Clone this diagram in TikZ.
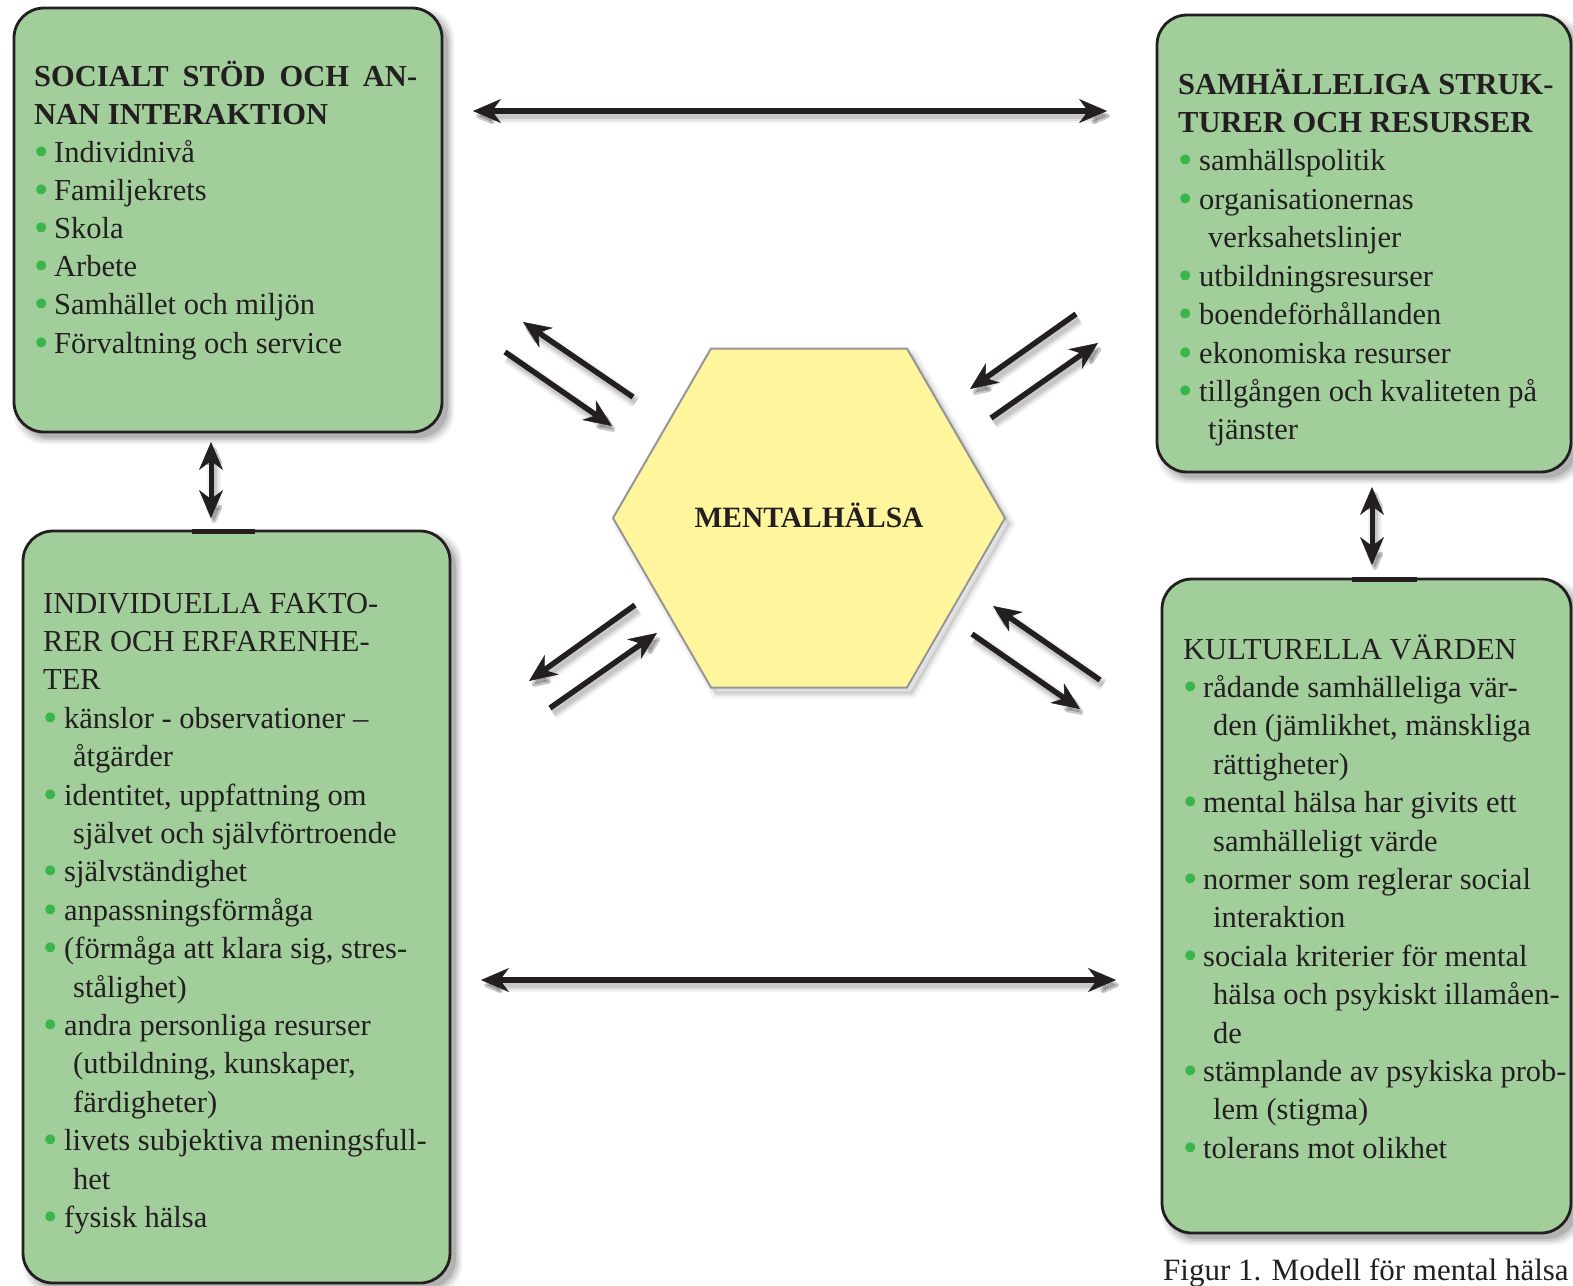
\documentclass[tikz,border=0pt]{standalone}
\usepackage{fontspec}
\setmainfont{Liberation Serif}
\usetikzlibrary{arrows.meta,calc}

\definecolor{ink}{RGB}{35,31,32}
\definecolor{panelgreen}{RGB}{162,206,156}
\definecolor{dotgreen}{RGB}{58,181,75}
\definecolor{hexfill}{RGB}{255,245,157}
\definecolor{hexline}{RGB}{150,150,150}

% list helpers: bulleted line and continuation line
\newcommand\pdot{\textcolor{dotgreen}{\smash{\raisebox{-3pt}{\scalebox{1.35}{\textbullet}}}}}
\newcommand\pitem[2][20pt]{\par\noindent\makebox[#1][l]{\pdot}#2}
\newcommand\pcont[2][30pt]{\par\noindent\hspace*{#1}#2}
\newcommand\ptext[2]{\parbox[t]{430pt}{\fontsize{30.5}{#1}\selectfont\raggedright #2}}

% rounded green panel with a soft shadow: name, x1, y1, x2, y2
\newcommand\panelbox[5]{%
  \foreach \ex/\op in {6/0.05,4/0.07,2/0.09,0/0.12}{%
    \fill[black,opacity=\op,rounded corners=30pt]
      ({#2-\ex+6},{#3-\ex+6}) rectangle ({#4+\ex+6},{#5+\ex+6});}%
  \node[panel,anchor=north west,minimum width={#4-#2},minimum height={#5-#3}] (#1) at (#2,#3) {};}

% arrow with a soft shadow: ends, shaft width, start, end
\newcommand\sarrow[4]{%
  \foreach \lw/\op in {14/0.05,10/0.07,6/0.1}{%
    \draw[#1,>={Stealth[length=26pt,width=22pt,inset=8pt,round]},draw=black,fill=black,
      line width=\lw pt,opacity=\op] ($(#3)+(3,5)$) -- ($(#4)+(3,5)$);}%
  \draw[#1,>={Stealth[length=28pt,width=24pt,inset=9pt,line width=0.5pt]},draw=ink,fill=ink,
    line width=#2pt] (#3) -- (#4);}

\tikzset{
  panel/.style={draw=ink,line width=2.8pt,fill=panelgreen,rounded corners=30pt,inner sep=0pt,outer sep=0pt},
  txt/.style={anchor=base west,inner sep=0pt,text=ink},
}

\begin{document}
\begin{tikzpicture}[x=1pt,y=-1pt]
\fill[white] (0,0) rectangle (1573,1285);
\useasboundingbox (0,0) rectangle (1573,1285);

% panels
\panelbox{soc}{14}{8}{442}{432}
\panelbox{sam}{1157}{15}{1571}{472}
\panelbox{ind}{23}{531}{450}{1283}
\panelbox{kul}{1162}{579}{1571}{1233}
\draw[ink,line width=4.5pt] (192,531.5) -- (255,531.5);
\draw[ink,line width=4.5pt] (1352,579.5) -- (1417,579.5);

% central hexagon
\draw[black,opacity=0.05,line width=10pt,line join=round,shift={(5,6)}]
  (613,518) -- (711,348.5) -- (907,348.5) -- (1005,518) -- (907,687.5) -- (711,687.5) -- cycle;
\filldraw[black,opacity=0.08,line width=4pt,line join=round,shift={(5,6)}]
  (613,518) -- (711,348.5) -- (907,348.5) -- (1005,518) -- (907,687.5) -- (711,687.5) -- cycle;
\filldraw[fill=hexfill,draw=hexline,line width=2pt]
  (613,518) -- (711,348.5) -- (907,348.5) -- (1005,518) -- (907,687.5) -- (711,687.5) -- cycle;
\node[anchor=base,inner sep=0pt,text=ink,font=\bfseries\fontsize{29.5}{35}\selectfont]
  (mh) at (809,527) {MENTALHÄLSA};

% arrow end points
\coordinate (h1a) at (473,111);  \coordinate (h1b) at (1107,111);
\coordinate (h2a) at (481,980);  \coordinate (h2b) at (1116,980);
\coordinate (v1a) at (211,442);  \coordinate (v1b) at (211,518);
\coordinate (v2a) at (1372,487); \coordinate (v2b) at (1372,565);
\coordinate (d1s) at (633,397);  \coordinate (d1t) at (523,322);
\coordinate (d2s) at (505,352);  \coordinate (d2t) at (612,426);
\coordinate (d3s) at (1076,314); \coordinate (d3t) at (970,389);
\coordinate (d4s) at (991,418);  \coordinate (d4t) at (1098,343);
\coordinate (d5s) at (635,605);  \coordinate (d5t) at (529,681);
\coordinate (d6s) at (550,708);  \coordinate (d6t) at (657,633);
\coordinate (d7s) at (1100,680); \coordinate (d7t) at (993,606);
\coordinate (d8s) at (972,634);  \coordinate (d8t) at (1080,709);

% connectors
\sarrow{<->}{6}{h1a}{h1b}
\sarrow{<->}{6}{h2a}{h2b}
\sarrow{<->}{5}{v1a}{v1b}
\sarrow{<->}{5}{v2a}{v2b}
\sarrow{->}{5.5}{d1s}{d1t}
\sarrow{->}{5.5}{d2s}{d2t}
\sarrow{->}{5.5}{d3s}{d3t}
\sarrow{->}{5.5}{d4s}{d4t}
\sarrow{->}{5.5}{d5s}{d5t}
\sarrow{->}{5.5}{d6s}{d6t}
\sarrow{->}{5.5}{d7s}{d7t}
\sarrow{->}{5.5}{d8s}{d8t}

% panel texts
\node[txt] (tsoc) at (34,86) {\ptext{38.15}{%
  \noindent\textbf{\makebox[383pt][s]{SOCIALT STÖD OCH AN-}}\par
  \noindent\textbf{NAN INTERAKTION}
  \pitem{Individnivå}
  \pitem{Familjekrets}
  \pitem{Skola}
  \pitem{Arbete}
  \pitem{Samhället och miljön}
  \pitem{Förvaltning och service}}};

\node[txt] (tsam) at (1178,94) {\ptext{38.44}{%
  \noindent\textbf{SAMHÄLLELIGA STRUK-}\par
  \noindent\textbf{TURER OCH RESURSER}
  \pitem[21pt]{samhällspolitik}
  \pitem[21pt]{organisationernas}
  \pcont{verksahetslinjer}
  \pitem[21pt]{utbildningsresurser}
  \pitem[21pt]{boendeförhållanden}
  \pitem[21pt]{ekonomiska resurser}
  \pitem[21pt]{tillgången och kvaliteten på}
  \pcont{tjänster}}};

\node[txt] (tind) at (43,613) {\ptext{38.4}{%
  \noindent INDIVIDUELLA FAKTO-\par
  \noindent RER OCH ERFARENHE-\par
  \noindent TER
  \pitem[21pt]{känslor - observationer –}
  \pcont{åtgärder}
  \pitem[21pt]{identitet, uppfattning om}
  \pcont{självet och självförtroende}
  \pitem[21pt]{självständighet}
  \pitem[21pt]{anpassningsförmåga}
  \pitem[21pt]{(förmåga att klara sig, stres-}
  \pcont{stålighet)}
  \pitem[21pt]{andra personliga resurser}
  \pcont{(utbildning, kunskaper,}
  \pcont{färdigheter)}
  \pitem[21pt]{livets subjektiva meningsfull-}
  \pcont{het}
  \pitem[21pt]{fysisk hälsa}}};

\node[txt] (tkul) at (1183,659) {\ptext{38.4}{%
  \noindent KULTURELLA VÄRDEN
  \pitem{rådande samhälleliga vär-}
  \pcont{den (jämlikhet, mänskliga}
  \pcont{rättigheter)}
  \pitem{mental hälsa har givits ett}
  \pcont{samhälleligt värde}
  \pitem{normer som reglerar social}
  \pcont{interaktion}
  \pitem{sociala kriterier för mental}
  \pcont{hälsa och psykiskt illamåen-}
  \pcont{de}
  \pitem{stämplande av psykiska prob-}
  \pcont{lem (stigma)}
  \pitem{tolerans mot olikhet}}};

% caption
\node[txt,font=\fontsize{31}{36}\selectfont] (cap) at (1163,1280) {Figur 1. Modell för mental hälsa};
\end{tikzpicture}
\end{document}
